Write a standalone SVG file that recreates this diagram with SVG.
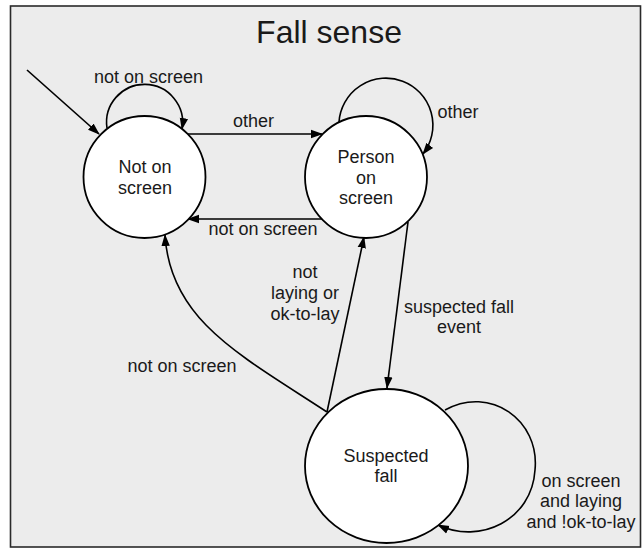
<svg xmlns="http://www.w3.org/2000/svg" width="643" height="550" viewBox="0 0 643 550">
  <style>
    text { font-family: "Liberation Sans", Arial, sans-serif; fill: #1a1a1a; text-anchor: middle; }
    .lbl { font-size: 18px; }
    .title { font-size: 32px; }
    .state { fill: #ffffff; stroke: #000000; stroke-width: 1.8; }
    .edge { fill: none; stroke: #000000; stroke-width: 1.6; marker-end: url(#arrow); }
  </style>
  <defs>
    <marker id="arrow" viewBox="0 0 12 10" refX="11" refY="5" markerWidth="12" markerHeight="10" markerUnits="userSpaceOnUse" orient="auto">
      <path d="M0,0.8 L12,5 L0,9.2 Z" fill="#000000"/>
    </marker>
  </defs>

  <!-- page and frame -->
  <rect x="0" y="0" width="643" height="550" fill="#ffffff"/>
  <rect x="10.5" y="6" width="630" height="541" fill="#ececec" stroke="#2a2a2a" stroke-width="1.6"/>

  <text class="title" x="329" y="43">Fall sense</text>

  <!-- transitions -->
  <g id="connectors">
    <path class="edge" d="M27,70 L99,134"/>
    <path class="edge" d="M107,128 A38,38 0 1,1 182,129"/>
    <path class="edge" d="M188,134 L322,134"/>
    <path class="edge" d="M322,219 L188,219"/>
    <path class="edge" d="M339,122 A47,47 0 1,1 423,154"/>
    <path class="edge" d="M408,222 L387,388"/>
    <path class="edge" d="M327,412 L364,237"/>
    <path class="edge" d="M327,412 C240,355 170,320 165,235"/>
    <path class="edge" d="M445,410 C490,385 540,420 535,470 C532,520 480,545 438,525"/>

    <text class="lbl" x="148.5" y="83">not on screen</text>
    <text class="lbl" x="253.5" y="127">other</text>
    <text class="lbl" x="458" y="118">other</text>
    <text class="lbl" x="263" y="235">not on screen</text>
    <text class="lbl" x="305" y="278">not</text>
    <text class="lbl" x="305" y="299">laying or</text>
    <text class="lbl" x="305" y="320">ok-to-lay</text>
    <text class="lbl" x="459" y="313">suspected fall</text>
    <text class="lbl" x="459" y="333">event</text>
    <text class="lbl" x="182" y="372">not on screen</text>
    <text class="lbl" x="581" y="487">on screen</text>
    <text class="lbl" x="581" y="507">and laying</text>
    <text class="lbl" x="581" y="528">and !ok-to-lay</text>
  </g>

  <!-- states -->
  <g id="not-on-screen">
    <circle class="state" cx="144.5" cy="177" r="61"/>
    <text class="lbl" x="145" y="173">Not on</text>
    <text class="lbl" x="145" y="194">screen</text>
  </g>
  <g id="person-on-screen">
    <circle class="state" cx="366" cy="177" r="61"/>
    <text class="lbl" x="366" y="163">Person</text>
    <text class="lbl" x="366" y="183.5">on</text>
    <text class="lbl" x="366" y="204">screen</text>
  </g>
  <g id="suspected-fall">
    <ellipse class="state" cx="386.5" cy="466" rx="81.5" ry="77"/>
    <text class="lbl" x="386" y="462">Suspected</text>
    <text class="lbl" x="386" y="482">fall</text>
  </g>
</svg>
